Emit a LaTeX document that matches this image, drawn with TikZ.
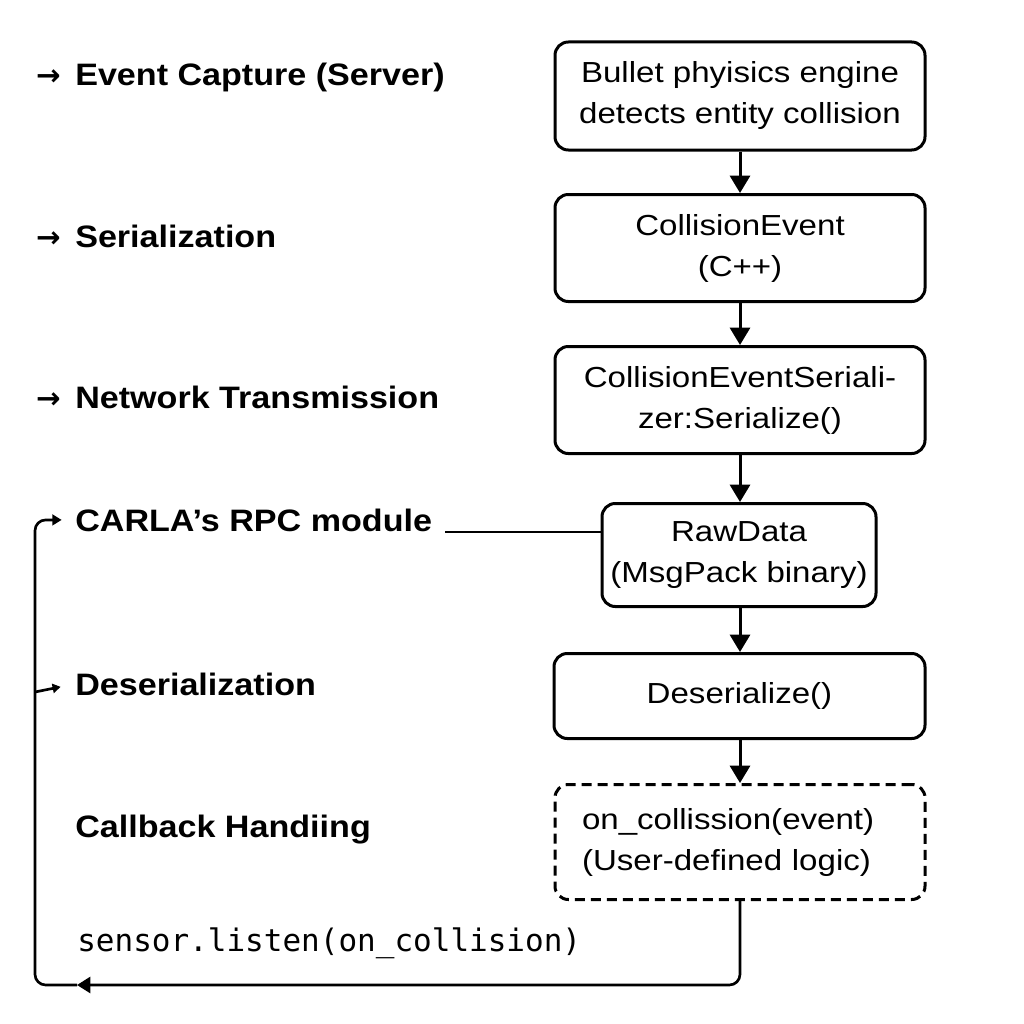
\documentclass[tikz,border=0pt]{standalone}
\usepackage{fontspec}
\setmainfont{Liberation Sans}
\newfontfamily\boxf{Liberation Sans}[FakeStretch=1.14]
\newfontfamily\labf{Liberation Sans}[FakeStretch=1.1]
\newfontfamily\arrf{DejaVu Sans}
\newfontfamily\monof{DejaVu Sans Mono}
\usetikzlibrary{arrows.meta}
\newcommand\larr{\llap{\arrf\bfseries\fontsize{22}{22}\selectfont →\hspace{11pt}}}
\begin{document}
\begin{tikzpicture}[x=0.75pt,y=-0.75pt,
  stepbox/.style={draw,line width=2.25pt,rounded corners=10pt,align=center,
    font=\boxf\fontsize{21.75}{30.75}\selectfont,inner sep=0pt},
  flow/.style={line width=2.25pt,-{Triangle[width=15pt,length=13pt]}},
  loopline/.style={line width=2pt,rounded corners=8pt},
  lab/.style={anchor=base west,inner sep=0pt,font=\labf\bfseries\fontsize{23.25}{28}\selectfont},
]
\useasboundingbox (0,0) rectangle (1024,1024);
% boxes
\node[stepbox,minimum width=277.5pt,minimum height=81pt] (b1) at (740,96) {Bullet phyisics engine\\detects entity collision};
\node[stepbox,minimum width=277.5pt,minimum height=80.25pt] (b2) at (740,248) {CollisionEvent\\(C++)};
\node[stepbox,minimum width=277.5pt,minimum height=80.25pt] (b3) at (740,400) {CollisionEventSeriali-\\zer:Serialize()};
\node[stepbox,minimum width=205.5pt,minimum height=77.25pt] (b4) at (739,555) {RawData\\(MsgPack binary)};
\node[stepbox,minimum width=278.25pt,minimum height=63.75pt] (b5) at (739.5,696) {Deserialize()};
\node[stepbox,dashed,dash pattern=on 7.5pt off 4.5pt,align=left,text width=237pt,inner xsep=20.25pt,minimum height=86.25pt] (b6) at (740,842) {on\_collission(event)\\(User-defined logic)};
% left labels
\node[lab] (l1) at (75,85) {\larr Event Capture (Server)};
\node[lab] (l2) at (75,247) {\larr Serialization};
\node[lab] (l3) at (75,408) {\larr Network Transmission};
\node[lab] (l4) at (75,531) {CARLA’s RPC module};
\node[lab] (l5) at (75,695) {Deserialization};
\node[lab] (l6) at (75,837) {Callback Handiing};
\node[anchor=base west,inner sep=0pt,font=\monof\fontsize{23.25}{28}\selectfont] (l7) at (77,951) {sensor.listen(on\_collision)};
% flow arrows
\draw[flow] (b1.south) -- (b1.south |- b2.north);
\draw[flow] (b2.south) -- (b2.south |- b3.north);
\draw[flow] (b3.south) -- (b3.south |- b4.north);
\draw[flow] (b3.south |- b4.south) -- (b3.south |- b5.north);
\draw[flow] (b3.south |- b5.south) -- (b3.south |- b6.north);
% RPC line
\coordinate (rpc) at (445,532);
\draw[line width=2pt] (rpc) -- (rpc -| b4.west);
% loop back
\coordinate (tipL) at (77,985);
\coordinate (cornerL) at (35,985);
\coordinate (j) at (35,692);
\draw[loopline,-{Triangle[width=12pt,length=10pt]}] (b3.south |- b6.south) |- (tipL);
\draw[loopline,-{Triangle[width=8pt,length=7pt]},shorten >=10pt] (tipL) -- (cornerL) |- (l4.west);
\draw[line width=2pt,-{Triangle[width=7pt,length=6pt]},shorten >=11pt] (j) -- (l5.west);
\end{tikzpicture}
\end{document}
